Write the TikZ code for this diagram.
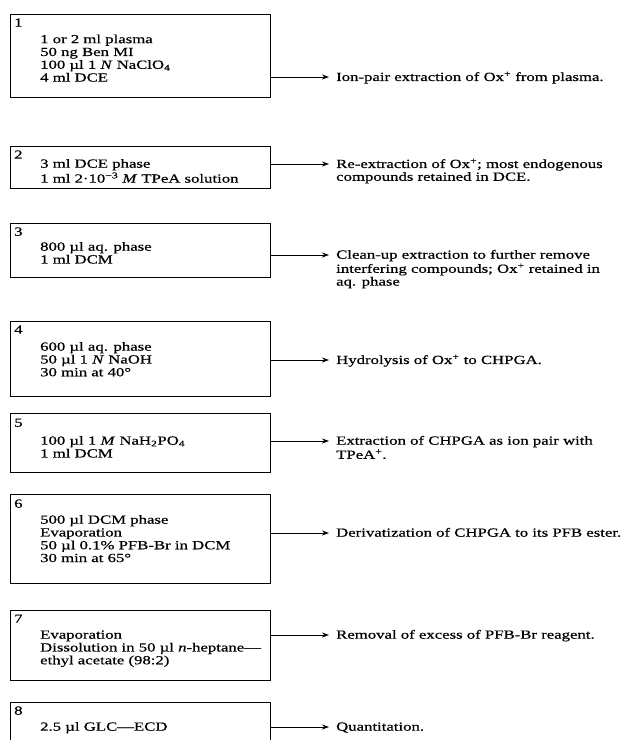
\documentclass[tikz,border=0pt]{standalone}
\usepackage{fontspec}
\setmainfont[FakeStretch=1.35,FakeBold=0.6]{Liberation Serif}
\usetikzlibrary{arrows.meta}
\begin{document}
\begin{tikzpicture}[x=1pt,y=-1pt,
  txt/.style={font=\fontsize{12.4}{12.8}\selectfont, inner sep=0pt, anchor=north west, align=left},
  box/.style={draw, line width=1.1pt, minimum width=260pt, inner sep=0pt, anchor=north west},
  arr/.style={line width=0.9pt, -{Stealth[length=7pt,width=5pt]}}]
\useasboundingbox (0,0) rectangle (633,740);
\clip (0,0) rectangle (633,740);

% Step 1
\node[box, minimum height=83pt] (b1) at (10,14) {};
\node[txt] (n1) at (14,23-5.5) {\strut 1};
\node[txt] (c1) at (40,39.5-5.5) {\strut 1 or 2 ml plasma\\50 ng Ben MI\\100 µl 1 \textit{N} NaClO\textsubscript{4}\\4 ml DCE};
\coordinate (e1) at (329,77);
\draw[arr] (b1.east |- e1) -- (e1);
\node[txt] (d1) at (336,77-5.5) {\strut Ion-pair extraction of Ox\textsuperscript{+} from plasma.};

% Step 2
\node[box, minimum height=42pt] (b2) at (10,146) {};
\node[txt] (n2) at (14,155-5.5) {\strut 2};
\node[txt] (c2) at (40,164-5.5) {\strut 3 ml DCE phase\\1 ml 2·10\textsuperscript{−3} \textit{M} TPeA solution};
\coordinate (e2) at (329,164);
\draw[arr] (b2.east |- e2) -- (e2);
\node[txt] (d2) at (336,164-5.5) {\strut Re-extraction of Ox\textsuperscript{+}; most endogenous\\compounds retained in DCE.};

% Step 3
\node[box, minimum height=54pt] (b3) at (10,223) {};
\node[txt] (n3) at (14,232-5.5) {\strut 3};
\node[txt] (c3) at (40,247-5.5) {\strut 800 µl aq. phase\\1 ml DCM};
\coordinate (e3) at (329,255);
\draw[arr] (b3.east |- e3) -- (e3);
\node[txt] (d3) at (336,255-5.5) {\strut Clean-up extraction to further remove\\interfering compounds; Ox\textsuperscript{+} retained in\\aq. phase};

% Step 4
\node[box, minimum height=75pt] (b4) at (10,321) {};
\node[txt] (n4) at (14,330-5.5) {\strut 4};
\node[txt] (c4) at (40,347-5.5) {\strut 600 µl aq. phase\\50 µl 1 \textit{N} NaOH\\30 min at 40°};
\coordinate (e4) at (329,360);
\draw[arr] (b4.east |- e4) -- (e4);
\node[txt] (d4) at (336,360-5.5) {\strut Hydrolysis of Ox\textsuperscript{+} to CHPGA.};

% Step 5
\node[box, minimum height=59pt] (b5) at (10,413) {};
\node[txt] (n5) at (14,423-5.5) {\strut 5};
\node[txt] (c5) at (40,441-5.5) {\strut 100 µl 1 \textit{M} NaH\textsubscript{2}PO\textsubscript{4}\\1 ml DCM};
\coordinate (e5) at (329,441);
\draw[arr] (b5.east |- e5) -- (e5);
\node[txt] (d5) at (336,441-5.5) {\strut Extraction of CHPGA as ion pair with\\TPeA\textsuperscript{+}.};

% Step 6
\node[box, minimum height=89pt] (b6) at (10,494) {};
\node[txt] (n6) at (14,504-5.5) {\strut 6};
\node[txt] (c6) at (40,520-5.5) {\strut 500 µl DCM phase\\Evaporation\\50 µl 0.1\% PFB-Br in DCM\\30 min at 65°};
\coordinate (e6) at (329,533);
\draw[arr] (b6.east |- e6) -- (e6);
\node[txt] (d6) at (336,533-5.5) {\strut Derivatization of CHPGA to its PFB ester.};

% Step 7
\node[box, minimum height=70pt] (b7) at (10,610) {};
\node[txt] (n7) at (14,619-5.5) {\strut 7};
\node[txt] (c7) at (40,635-5.5) {\strut Evaporation\\Dissolution in 50 µl \textit{n}-heptane—\\ethyl acetate (98:2)};
\coordinate (e7) at (329,635);
\draw[arr] (b7.east |- e7) -- (e7);
\node[txt] (d7) at (336,635-5.5) {\strut Removal of excess of PFB-Br reagent.};

% Step 8
\node[box, minimum height=60pt] (b8) at (10,702) {};
\node[txt] (n8) at (14,711-5.5) {\strut 8};
\node[txt] (c8) at (40,727-5.5) {\strut 2.5 µl GLC—ECD};
\coordinate (e8) at (329,727);
\draw[arr] (b8.east |- e8) -- (e8);
\node[txt] (d8) at (336,727-5.5) {\strut Quantitation.};
\end{tikzpicture}
\end{document}
